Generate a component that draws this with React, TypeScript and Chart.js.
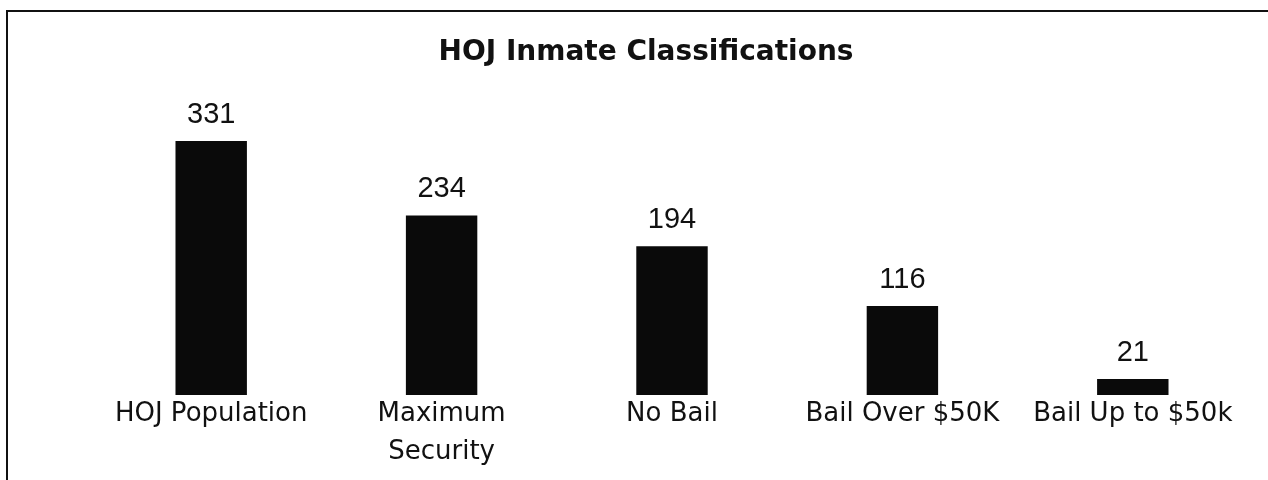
import React, { useEffect, useRef } from "react";
import { Chart, registerables } from "chart.js";

Chart.register(...registerables);

const categories: (string | string[])[] = [
  "HOJ Population",
  ["Maximum", "Security"],
  "No Bail",
  "Bail Over $50K",
  "Bail Up to $50k",
];
const counts: number[] = [331, 234, 194, 116, 21];
const chartTitle = "HOJ Inmate Classifications";

const FONT = "'DejaVu Sans', sans-serif";
const NUM_FONT = "'Liberation Sans', Arial, sans-serif";

export default function App() {
  const ref = useRef<HTMLCanvasElement | null>(null);

  useEffect(() => {
    if (!ref.current) return;
    const valueLabels = {
      id: "valueLabels",
      afterDatasetsDraw(chart: any) {
        const ctx = chart.ctx;
        const meta = chart.getDatasetMeta(0);
        ctx.save();
        ctx.fillStyle = "#111";
        ctx.font = `29px ${NUM_FONT}`;
        ctx.textAlign = "center";
        ctx.textBaseline = "alphabetic";
        meta.data.forEach((bar: any, i: number) => {
          ctx.fillText(String(counts[i]), bar.x, bar.y - 18);
        });
        ctx.restore();
      },
    };
    const titlePlugin = {
      id: "customTitle",
      afterDraw(chart: any) {
        const ctx = chart.ctx;
        ctx.save();
        ctx.fillStyle = "#111";
        ctx.font = `bold 28px ${FONT}`;
        ctx.textAlign = "center";
        ctx.textBaseline = "alphabetic";
        ctx.fillText(chartTitle, 646, 60);
        ctx.restore();
      },
    };
    const chart = new Chart(ref.current, {
      type: "bar",
      data: {
        labels: categories,
        datasets: [
          {
            data: counts,
            backgroundColor: "#0a0a0a",
            borderWidth: 0,
            barPercentage: 0.31,
            categoryPercentage: 1,
          },
        ],
      },
      options: {
        responsive: false,
        animation: false,
        layout: { padding: { top: 88, left: 96, right: 20, bottom: 9 } },
        plugins: {
          legend: { display: false },
          title: { display: false },
          tooltip: { enabled: false },
        },
        scales: {
          x: {
            grid: { display: false, drawTicks: false },
            border: { display: false },
            ticks: {
              color: "#111",
              padding: 0,
              maxRotation: 0,
              autoSkip: false,
              font: { family: FONT, size: 26, lineHeight: 1.46 },
            },
          },
          y: {
            display: false,
            min: 0,
            max: 400,
          },
        },
      },
      plugins: [valueLabels, titlePlugin],
    });
    return () => chart.destroy();
  }, []);

  return (
    <div
      style={{
        position: "fixed",
        left: 0,
        top: 0,
        width: 1268,
        height: 480,
        background: "#fff",
        overflow: "hidden",
      }}
    >
      <div
        style={{
          position: "absolute",
          left: 6,
          top: 10,
          width: 1280,
          height: 500,
          borderLeft: "2px solid #111",
          borderTop: "2px solid #111",
        }}
      />
      <canvas
        ref={ref}
        width={1268}
        height={480}
        style={{ position: "absolute", left: 0, top: 0 }}
      />
    </div>
  );
}
